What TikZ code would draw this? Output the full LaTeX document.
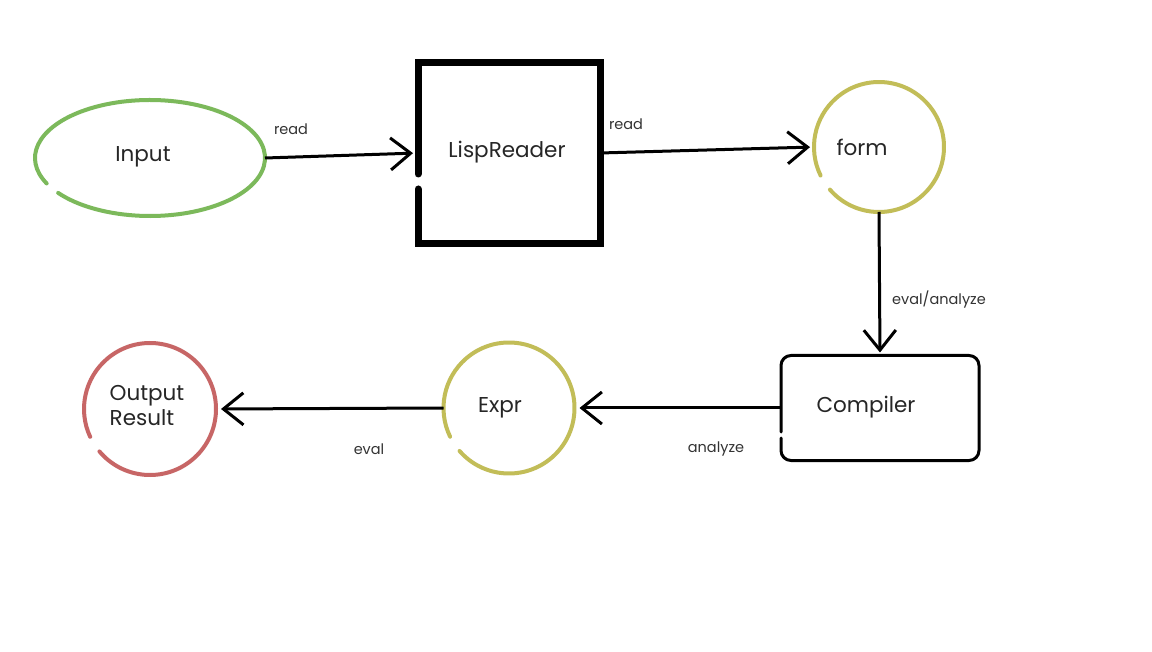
\documentclass[tikz,border=0pt]{standalone}
\usepackage{fontspec}
\setmainfont{Poppins}
\usetikzlibrary{arrows.meta,shapes.geometric}
\definecolor{ingreen}{HTML}{7CB95B}
\definecolor{olivec}{HTML}{C2BD58}
\definecolor{redc}{HTML}{C76666}
\begin{document}
\begin{tikzpicture}[x=1pt,y=1pt,
  shapebox/.style={draw=none,inner sep=0pt,outer sep=0pt},
  maintext/.style={font=\fontsize{21.5}{25}\selectfont, text=black!85, inner sep=0pt},
  lab/.style={font=\fontsize{14.5}{16}\selectfont, text=black!80, inner sep=0pt},
  arr/.style={line width=3pt, -{Straight Barb[length=20pt,width=32pt,line width=3pt]}},
  greenline/.style={draw=ingreen, line width=4pt, line cap=round},
  oliveline/.style={draw=olivec, line width=4pt, line cap=round},
  redline/.style={draw=redc, line width=4pt, line cap=round}]
\useasboundingbox (0,0) rectangle (1152,-652);
\fill[white] (0,0) rectangle (1152,-652);

% shapes
\node[shapebox, ellipse, minimum width=230pt, minimum height=116pt] (input) at (150,-158) {};
\node[shapebox, rectangle, minimum width=182pt, minimum height=181pt] (reader) at (509,-153) {};
\node[shapebox, circle, minimum size=130pt] (form) at (879,-147) {};
\node[shapebox, rectangle, minimum width=198pt, minimum height=105pt] (compiler) at (880,-408) {};
\node[shapebox, circle, minimum size=131pt] (expr) at (509,-408) {};
\node[shapebox, circle, minimum size=132pt] (output) at (150,-409) {};

% outlines
\draw[greenline] (input.center) ++(217:115pt and 58pt) arc[start angle=217, end angle=566, x radius=115pt, y radius=58pt];
\draw[line width=7pt, line cap=round, line join=miter]
  ([yshift=-21pt]reader.west) -- (reader.north west) -- (reader.north east)
  -- (reader.south east) -- (reader.south west) -- ([yshift=-36pt]reader.west);
\draw[oliveline] (form.center) ++(221:65pt) arc[start angle=221, end angle=566, radius=65pt];
\draw[line width=3pt, line cap=round, rounded corners=10pt]
  ([yshift=-24pt]compiler.west) -- (compiler.north west) -- (compiler.north east)
  -- (compiler.south east) -- (compiler.south west) -- ([yshift=-30pt]compiler.west);
\draw[oliveline] (expr.center) ++(221:65.5pt) arc[start angle=221, end angle=566, radius=65.5pt];
\draw[redline] (output.center) ++(220:66pt) arc[start angle=220, end angle=565, radius=66pt];

% main texts
\node[maintext] (inputtext) at (143,-157) {Input};
\node[maintext] (readertext) at (507,-152) {LispReader};
\node[maintext] (formtext) at (862,-147) {form};
\node[maintext] (compilertext) at (866,-407) {Compiler};
\node[maintext] (exprtext) at (500,-408) {Expr};
\node[maintext, align=left] (outputtext) at (147,-406) {Output\\Result};

% connectors
\draw[arr, shorten >=5pt] (input.east) -- (reader.west);
\draw[arr, shorten >=4pt] (reader.east) -- (form.west);
\draw[arr, shorten >=3pt] (form.south) -- (compiler.north);
\draw[arr, shorten >=5pt] (compiler.west) -- (expr.east);
\draw[arr, shorten >=5pt] (expr.west) -- (output.east);

% labels
\node[lab] (l1) at (291,-129) {read};
\node[lab] (l2) at (626,-124) {read};
\node[lab] (l3) at (939,-300) {eval/analyze};
\node[lab] (l4) at (716,-449) {analyze};
\node[lab] (l5) at (369,-449) {eval};
\end{tikzpicture}
\end{document}
